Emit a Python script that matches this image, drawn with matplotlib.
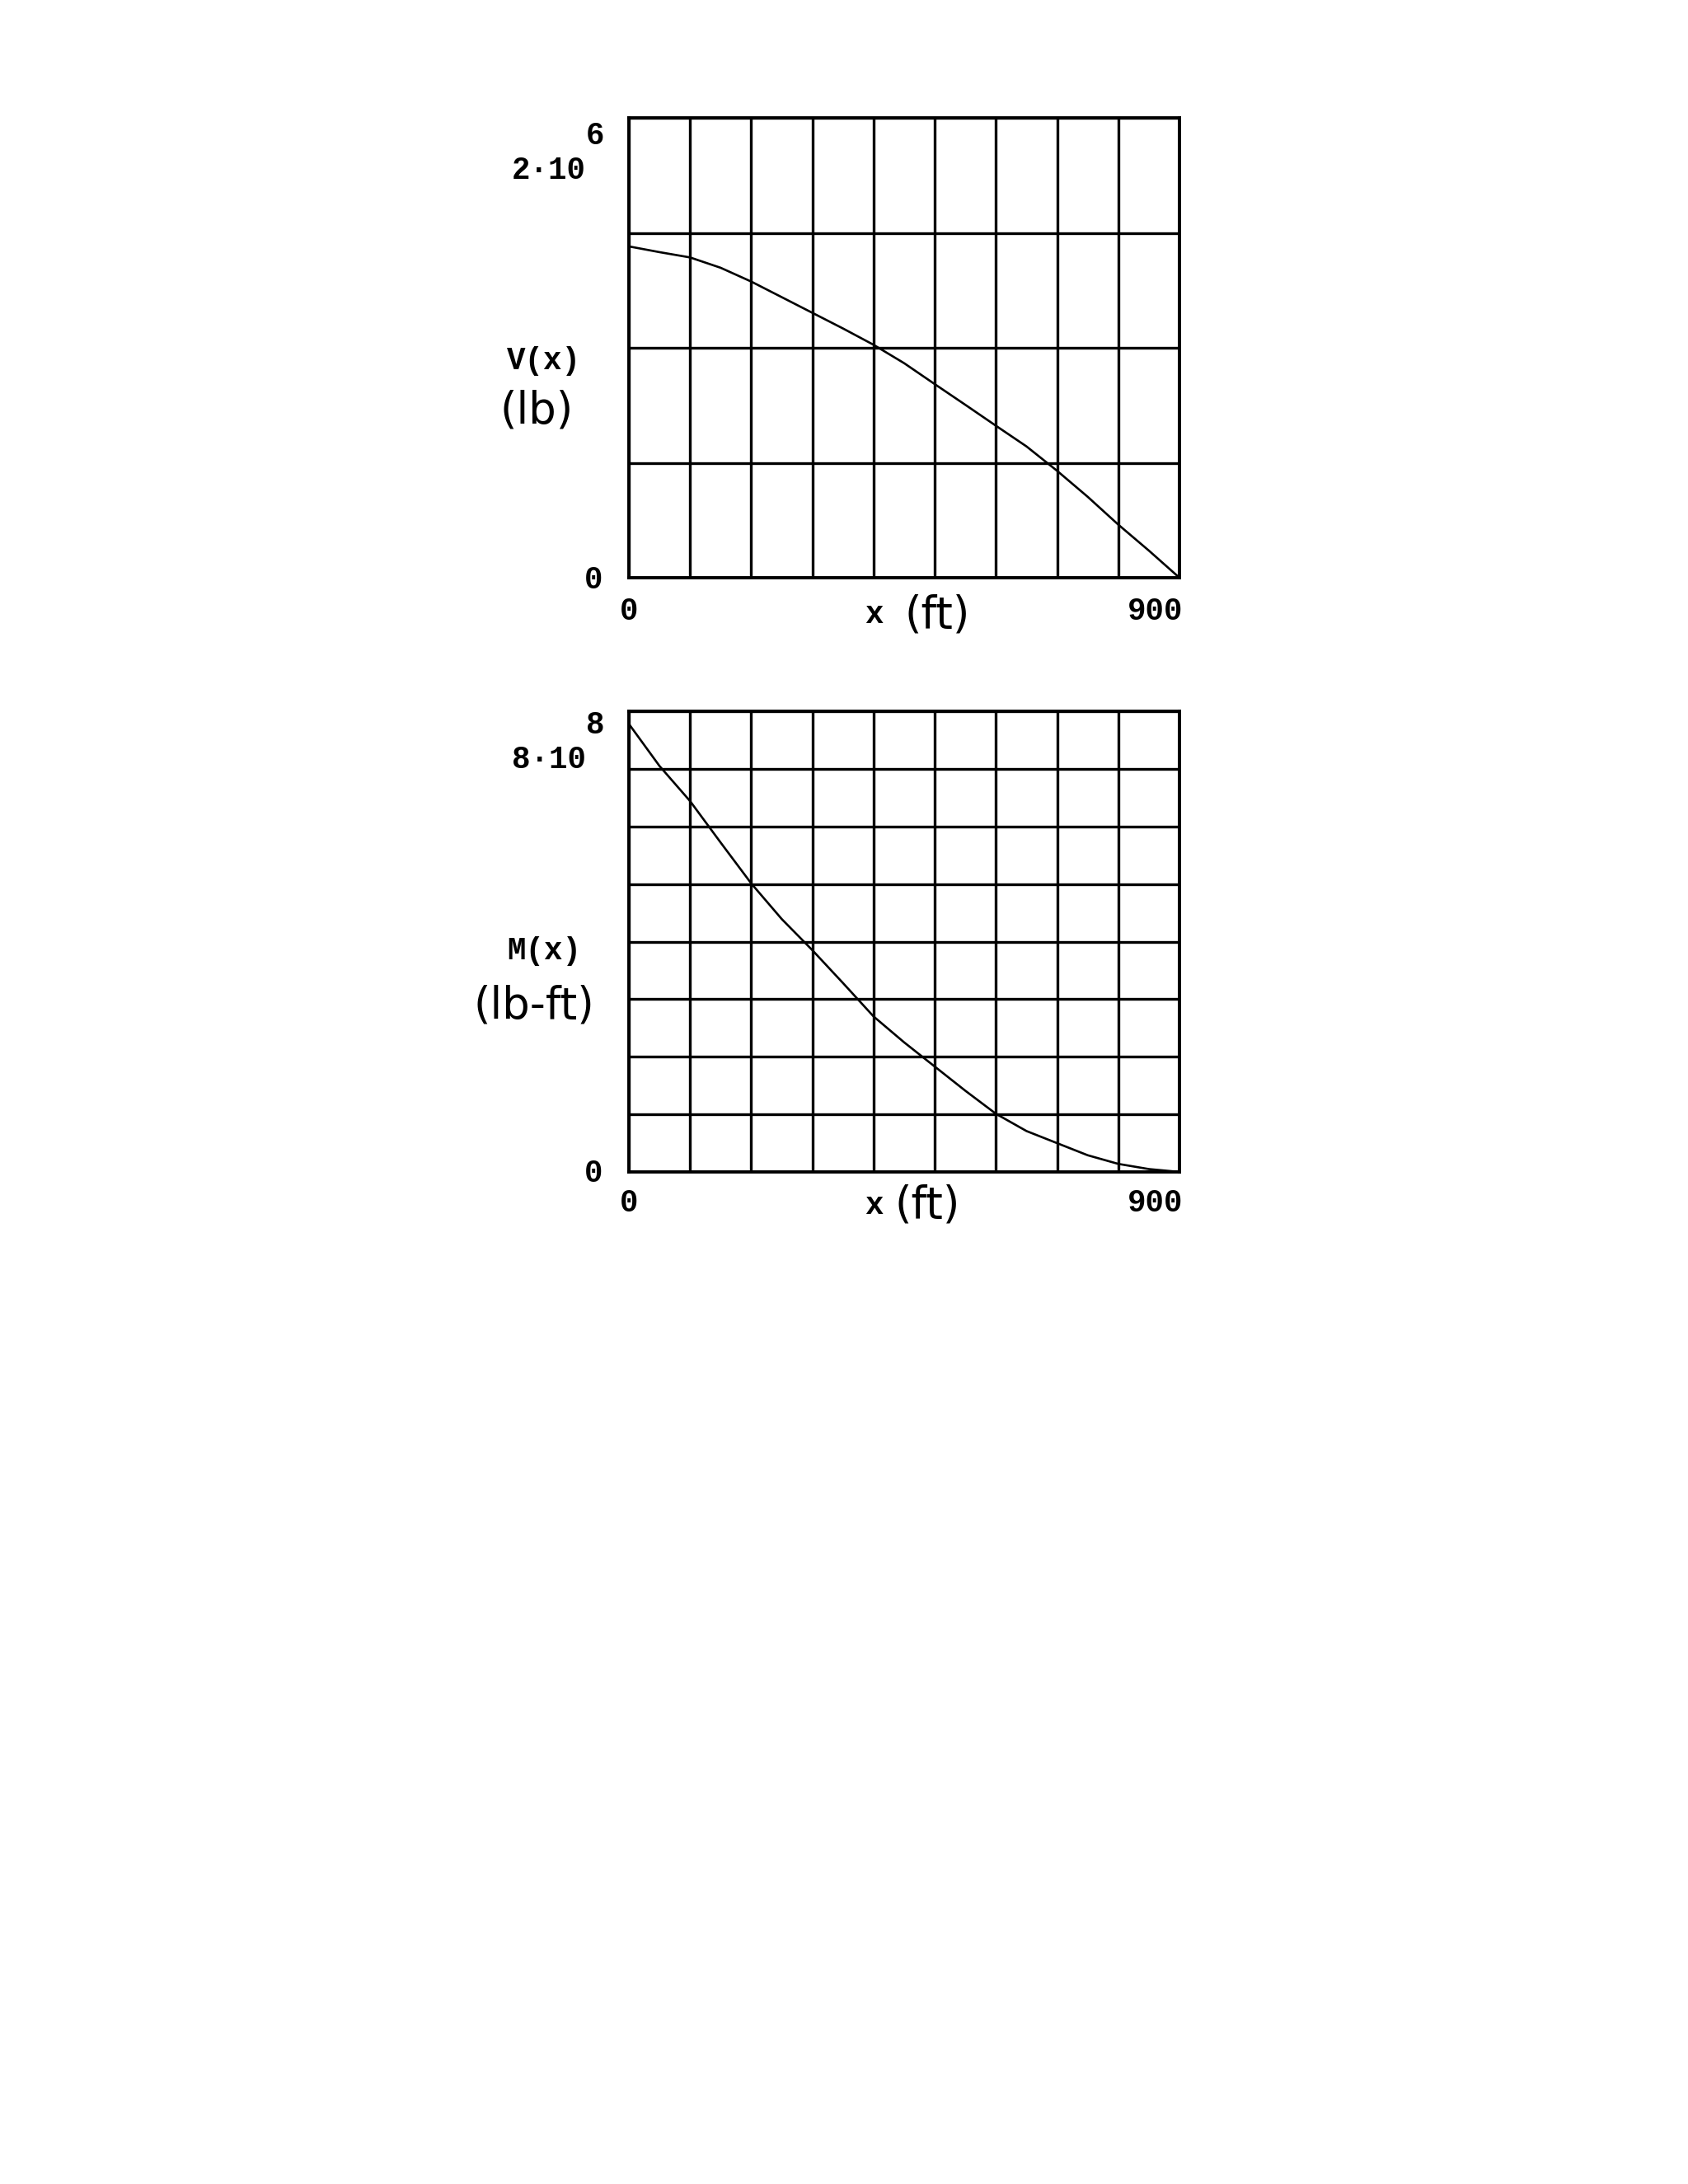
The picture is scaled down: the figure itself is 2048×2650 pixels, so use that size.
import matplotlib
matplotlib.use("Agg")
import matplotlib.pyplot as plt
import numpy as np

# values
x_ft = [0, 50, 100, 150, 200, 250, 300, 350, 400, 450,
        500, 550, 600, 650, 700, 750, 800, 850, 900]
shear_lb = [1.441e6, 1.416e6, 1.393e6, 1.348e6, 1.288e6, 1.22e6, 1.152e6, 1.084e6,
            1.013e6, 0.933e6, 0.842e6, 0.752e6, 0.661e6, 0.571e6, 0.465e6,
            0.352e6, 0.231e6, 0.118e6, 0.0]
moment_lbft = [7.78e8, 7.05e8, 6.44e8, 5.72e8, 5.01e8, 4.39e8, 3.85e8, 3.28e8,
               2.70e8, 2.25e8, 1.83e8, 1.41e8, 1.01e8, 0.71e8, 0.50e8,
               0.29e8, 0.14e8, 0.05e8, 0.0]

x_ticks = np.arange(0, 901, 100)
v_ticks = np.arange(0, 2.0e6 + 1, 5e5)
m_ticks = np.arange(0, 8.0e8 + 1, 1e8)

W, H = 2048, 2650
fig = plt.figure(figsize=(W / 100, H / 100), dpi=100)
fig.patch.set_facecolor("white")

MONO = "Liberation Mono"
HAND = "DejaVu Sans"


def px(x, y):
    return x / W, 1 - y / H


def make_axes(top, bottom, yticks, ymax, xs, ys):
    ax = fig.add_axes([763 / W, 1 - bottom / H, 668 / W, (bottom - top) / H])
    ax.set_xlim(0, 900)
    ax.set_ylim(0, ymax)
    ax.set_xticks(x_ticks)
    ax.set_yticks(yticks)
    ax.tick_params(length=0, labelbottom=False, labelleft=False)
    ax.grid(True, color="black", lw=2.4)
    for s in ax.spines.values():
        s.set_linewidth(2.8)
    ax.plot(xs, ys, color="black", lw=1.9)
    return ax


make_axes(143, 701, v_ticks, 2.0e6, x_ft, shear_lb)
make_axes(863, 1422, m_ticks, 8.0e8, x_ft, moment_lbft)

mono = dict(family=MONO, weight="bold", fontsize=27, color="black")
hand = dict(family=HAND, fontsize=38, color="black")

# upper chart texts
fig.text(*px(711, 207), "2\u00b710", ha="right", va="center", **mono)
fig.text(*px(711, 165), "6", ha="left", va="center", **mono)
fig.text(*px(660, 438), "V(x)", ha="center", va="center", **mono)
fig.text(*px(651, 498), "(lb)", ha="center", va="center", **hand)
fig.text(*px(720, 704), "0", ha="center", va="center", **mono)
fig.text(*px(763, 742), "0", ha="center", va="center", **mono)
fig.text(*px(1435, 742), "900", ha="right", va="center", **mono)
fig.text(*px(1060, 746), "x", ha="center", va="center", **mono)
fig.text(*px(1137, 746), "(ft)", ha="center", va="center", **hand)

# lower chart texts
fig.text(*px(711, 922), "8\u00b710", ha="right", va="center", **mono)
fig.text(*px(711, 880), "8", ha="left", va="center", **mono)
fig.text(*px(660, 1154), "M(x)", ha="center", va="center", **mono)
fig.text(*px(648, 1220), "(lb-ft)", ha="center", va="center", **hand)
fig.text(*px(720, 1424), "0", ha="center", va="center", **mono)
fig.text(*px(763, 1460), "0", ha="center", va="center", **mono)
fig.text(*px(1435, 1460), "900", ha="right", va="center", **mono)
fig.text(*px(1060, 1463), "x", ha="center", va="center", **mono)
fig.text(*px(1125, 1463), "(ft)", ha="center", va="center", **hand)

fig.savefig("out.png", dpi=100, facecolor="white")
